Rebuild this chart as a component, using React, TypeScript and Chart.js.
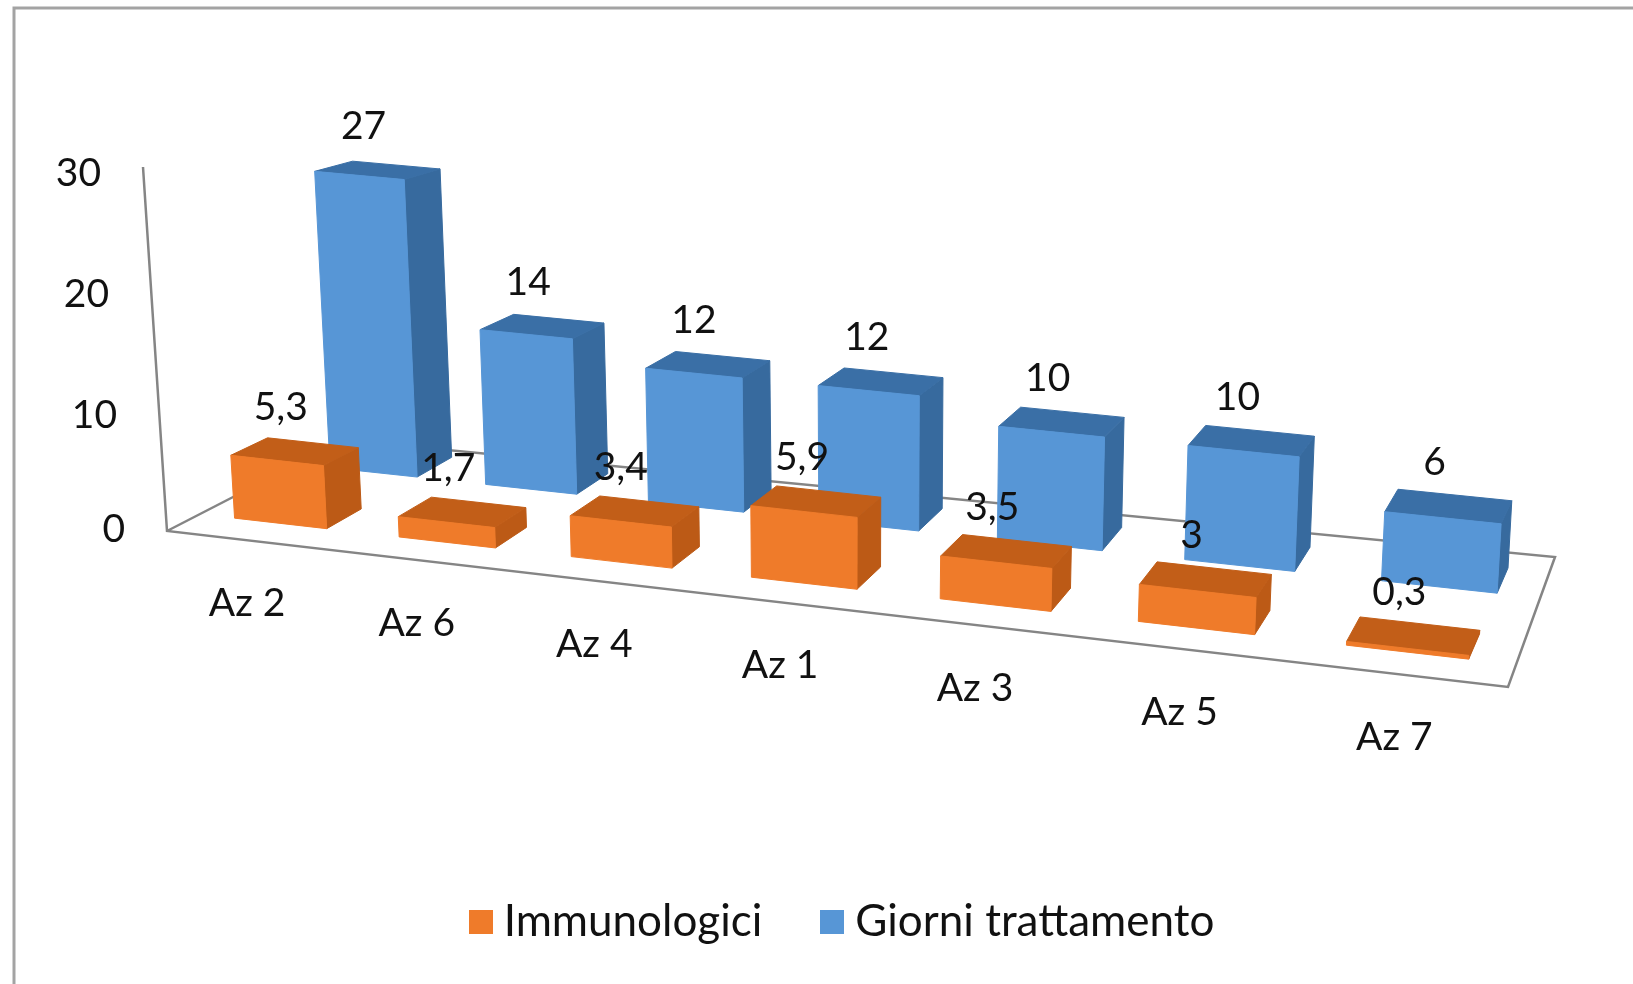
import React, { useEffect, useRef } from "react";
import { Chart, registerables } from "chart.js";

Chart.register(...registerables);

const categories = ["Az 2", "Az 6", "Az 4", "Az 1", "Az 3", "Az 5", "Az 7"];
const immunologici = [5.3, 1.7, 3.4, 5.9, 3.5, 3, 0.3];
const giorni = [27, 14, 12, 12, 10, 10, 6];
const yTicks = [0, 10, 20, 30];

const FONT = "Lato, 'Noto Sans', sans-serif";
const W = 1633;
const H = 984;

// Perspective frame of the 3D box (floor and ceiling corners)
const FL = [167, 531], FR = [1508, 687], BR = [1555, 557], BL = [344, 440];
const PBR = [1555, 566]; // back right corner used for the bars
const TFL = [143, 167], TFR = [1533, 302], TBR = [1575, 232], TBL = [328, 124];
const K = 1.18;
const DEPTHS: number[][] = [[0.185, 0.395], [0.735, 0.945]];
const FACES = [
  { front: "#EF7B2A", top: "#C25E18", side: "#BC5A16" },
  { front: "#5796D6", top: "#3A6FA6", side: "#376A9E" },
];

const lerp = (a: number[], b: number[], t: number) => [a[0] + (b[0] - a[0]) * t, a[1] + (b[1] - a[1]) * t];

function project(s: number, h: number, d: number) {
  const sp = s / (s + K * (1 - s));
  const front = lerp(lerp(FL, FR, sp), lerp(TFL, TFR, sp), h);
  const back = lerp(lerp(BL, PBR, sp), lerp(TBL, TBR, sp), h);
  return lerp(front, back, d);
}

function poly(ctx: CanvasRenderingContext2D, pts: number[][], fill: string) {
  ctx.beginPath();
  pts.forEach((p, i) => (i ? ctx.lineTo(p[0], p[1]) : ctx.moveTo(p[0], p[1])));
  ctx.closePath();
  ctx.fillStyle = fill;
  ctx.fill();
  ctx.strokeStyle = fill;
  ctx.lineWidth = 1;
  ctx.stroke();
}

const norm = (chart: any) => {
  const xs = chart.scales.x;
  const ys = chart.scales.y;
  return {
    sOf: (px: number) => (px - xs.left) / xs.width,
    hOf: (py: number) => (ys.bottom - py) / ys.height,
    xs,
    ys,
  };
};

const box3d = {
  id: "box3d",
  beforeDraw(chart: any) {
    const { ctx } = chart;
    ctx.save();
    ctx.fillStyle = "#fff";
    ctx.fillRect(0, 0, W, H);
    ctx.strokeStyle = "#a3a3a3";
    ctx.lineWidth = 3;
    ctx.beginPath();
    ctx.moveTo(14, H);
    ctx.lineTo(14, 8);
    ctx.lineTo(W, 8);
    ctx.stroke();
    ctx.restore();
  },
  beforeDatasetsDraw(chart: any) {
    const { ctx } = chart;
    const { xs, ys } = norm(chart);
    ctx.save();
    ctx.strokeStyle = "#858585";
    ctx.lineWidth = 2.5;
    ctx.beginPath();
    ctx.moveTo(TFL[0], TFL[1]);
    ctx.lineTo(FL[0], FL[1]);
    ctx.lineTo(FR[0], FR[1]);
    ctx.lineTo(BR[0], BR[1]);
    ctx.lineTo(BL[0], BL[1]);
    ctx.lineTo(FL[0], FL[1]);
    ctx.stroke();
    ctx.fillStyle = "#111";
    ctx.font = `39px ${FONT}`;
    ctx.textAlign = "right";
    ctx.textBaseline = "middle";
    ys.ticks.forEach((t: any) => {
      const h = (ys.bottom - ys.getPixelForValue(t.value)) / ys.height;
      const p = project(0, h, 0);
      ctx.fillText(String(t.value), p[0] - 42, p[1] + (t.value === 0 ? -2 : 6));
    });
    ctx.textAlign = "center";
    categories.forEach((c, i) => {
      const s = (xs.getPixelForValue(i) - xs.left) / xs.width;
      const p = project(s, 0, 0);
      ctx.fillText(c, p[0] - 2, p[1] + 63);
    });
    ctx.restore();
  },
  beforeDatasetDraw(chart: any, args: any) {
    const { ctx } = chart;
    const { sOf, hOf } = norm(chart);
    const meta = args.meta;
    const [d0, d1] = DEPTHS[args.index];
    const face = FACES[args.index];
    ctx.save();
    meta.data.forEach((el: any) => {
      const { x, y, base, width } = el.getProps(["x", "y", "base", "width"], true);
      const s0 = sOf(x - width / 2);
      const s1 = sOf(x + width / 2);
      const h0 = hOf(base);
      const h1 = hOf(y);
      poly(ctx, [project(s1, h0, d0), project(s1, h0, d1), project(s1, h1, d1), project(s1, h1, d0)], face.side);
      poly(ctx, [project(s0, h1, d0), project(s1, h1, d0), project(s1, h1, d1), project(s0, h1, d1)], face.top);
      poly(ctx, [project(s0, h0, d0), project(s1, h0, d0), project(s1, h1, d0), project(s0, h1, d0)], face.front);
    });
    ctx.restore();
    return false;
  },
  afterDatasetsDraw(chart: any) {
    const { ctx } = chart;
    const { sOf, hOf } = norm(chart);
    ctx.save();
    ctx.fillStyle = "#111";
    ctx.font = `39px ${FONT}`;
    ctx.textAlign = "center";
    ctx.textBaseline = "middle";
    chart.data.datasets.forEach((ds: any, di: number) => {
      const [d0, d1] = DEPTHS[di];
      chart.getDatasetMeta(di).data.forEach((el: any, i: number) => {
        const p = project(sOf(el.x), hOf(el.y), (d0 + d1) / 2);
        ctx.fillText(String(ds.data[i]).replace(".", ","), p[0] - 14, p[1] - 44);
      });
    });
    ctx.restore();
  },
};

function legendSwatch(color: string) {
  const c = document.createElement("canvas");
  c.width = 24;
  c.height = 24;
  const g = c.getContext("2d") as CanvasRenderingContext2D;
  g.fillStyle = color;
  g.fillRect(0, 0, 24, 24);
  return c;
}

export default function App() {
  const ref = useRef<HTMLCanvasElement>(null);
  useEffect(() => {
    const chart = new Chart(ref.current as HTMLCanvasElement, {
      type: "bar",
      data: {
        labels: categories,
        datasets: [
          { label: "Immunologici", data: immunologici, backgroundColor: "#EF7B2A", grouped: false },
          { label: "Giorni trattamento", data: giorni, backgroundColor: "#5796D6", grouped: false },
        ],
      } as any,
      options: {
        responsive: false,
        animation: false,
        layout: { padding: { left: 61, bottom: 30, top: 20, right: 0 } },
        datasets: { bar: { barPercentage: 0.565, categoryPercentage: 1 } },
        scales: {
          x: { display: false, grid: { display: false } },
          y: {
            display: false,
            min: yTicks[0],
            max: yTicks[yTicks.length - 1],
            ticks: { stepSize: 10 },
            grid: { display: false },
          },
        },
        plugins: {
          tooltip: { enabled: false },
          legend: {
            position: "bottom",
            labels: {
              color: "#111",
              font: { family: FONT, size: 44 },
              usePointStyle: true,
              pointStyleWidth: 2,
              boxHeight: 24,
              padding: 69,
              generateLabels(c: any) {
                return Chart.defaults.plugins.legend.labels.generateLabels(c).map((l: any) => ({
                  ...l,
                  pointStyle: legendSwatch(l.fillStyle),
                }));
              },
            },
          },
        },
      } as any,
      plugins: [box3d],
    });
    return () => chart.destroy();
  }, []);
  return (
    <div style={{ position: "absolute", left: 0, top: 0, width: W, height: H, background: "#fff" }}>
      <canvas ref={ref} width={W} height={H} style={{ display: "block" }} />
    </div>
  );
}
